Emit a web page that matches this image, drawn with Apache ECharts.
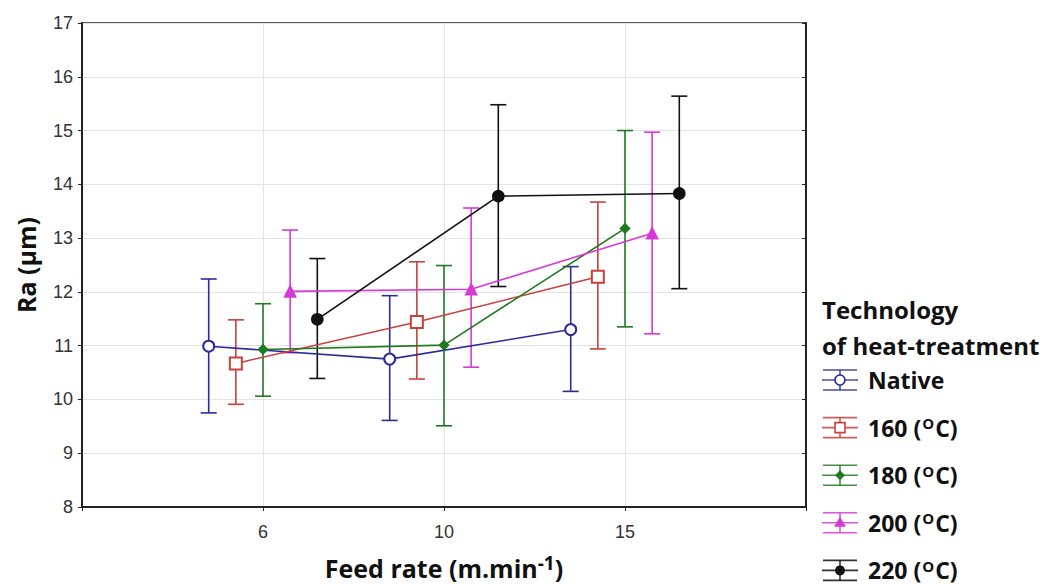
<!DOCTYPE html>
<html><head><meta charset="utf-8">
<script src="https://cdn.jsdelivr.net/npm/echarts@6/dist/echarts.min.js"></script>
<style>html,body{margin:0;padding:0;background:#fff}#c{width:1046px;height:585px}</style>
</head><body><div id="c"></div>
<script>
const categories = ['6', '10', '15'];
const yTicks = [8, 9, 10, 11, 12, 13, 14, 15, 16, 17];
const seriesNames = ['Native', '160', '180', '200', '220'];
const nativeMean = [10.99, 10.75, 11.30];
const nativeUpper = [12.24, 11.93, 12.47];
const nativeLower = [9.75, 9.61, 10.15];
const t160Mean = [10.67, 11.44, 12.28];
const t160Upper = [11.48, 12.56, 13.67];
const t160Lower = [9.91, 10.38, 10.94];
const t180Mean = [10.93, 11.01, 13.18];
const t180Upper = [11.78, 12.49, 15.00];
const t180Lower = [10.06, 9.51, 11.35];
const t200Mean = [12.01, 12.05, 13.09];
const t200Upper = [13.15, 13.56, 14.97];
const t200Lower = [10.87, 10.60, 11.22];
const t220Mean = [11.49, 13.78, 13.83];
const t220Upper = [12.62, 15.48, 15.64];
const t220Lower = [10.39, 12.10, 12.06];

const means = [nativeMean, t160Mean, t180Mean, t200Mean, t220Mean];
const uppers = [nativeUpper, t160Upper, t180Upper, t200Upper, t220Upper];
const lowers = [nativeLower, t160Lower, t180Lower, t200Lower, t220Lower];
const colors = ['#2b2b9a', '#c8413a', '#1f7a1f', '#d63ad6', '#111111'];
const symbols = ['emptyCircle', 'emptyRect', 'diamond', 'triangle', 'circle'];
const symbolSizes = [11, 12, 9, 11, 11];
const offsets = [-0.3, -0.15, 0, 0.15, 0.3];

const chart = echarts.init(document.getElementById('c'), null, {renderer: 'svg'});
const series = [];
seriesNames.forEach((name, s) => {
  const pts = categories.map((c, i) => [i + 1 + offsets[s], means[s][i]]);
  const bars = categories.map((c, i) => [i + 1 + offsets[s], lowers[s][i], uppers[s][i]]);
  series.push({
    type: 'custom', name: name + '_err', data: bars, z: 2,
    renderItem: (params, api) => {
      const x = api.value(0);
      const lo = api.coord([x, api.value(1)]);
      const hi = api.coord([x, api.value(2)]);
      const hw = 8;
      const st = {stroke: colors[s], lineWidth: 1.6};
      return {type: 'group', children: [
        {type: 'line', shape: {x1: lo[0], y1: lo[1], x2: hi[0], y2: hi[1]}, style: st},
        {type: 'line', shape: {x1: lo[0] - hw, y1: lo[1], x2: lo[0] + hw, y2: lo[1]}, style: st},
        {type: 'line', shape: {x1: hi[0] - hw, y1: hi[1], x2: hi[0] + hw, y2: hi[1]}, style: st}
      ]};
    },
    encode: {x: 0, y: [1, 2]}
  });
  series.push({
    type: 'line', name: name, data: pts, z: 3,
    symbol: symbols[s], symbolSize: symbolSizes[s],
    lineStyle: {color: colors[s], width: 1.6},
    itemStyle: {color: colors[s], borderColor: colors[s], borderWidth: 1.6},
    emphasis: {disabled: true}
  });
});

// legend drawn with graphic elements
const legendFont = '"Open Sans", "Noto Sans", sans-serif';
const graphics = [
  {type: 'text', x: 822, y: 309, style: {text: 'Technology', font: 'bold 24px ' + legendFont, fill: '#111', verticalAlign: 'middle', lineHeight: 26}},
  {type: 'text', x: 822, y: 345, style: {text: 'of heat-treatment', font: 'bold 24px ' + legendFont, fill: '#111', verticalAlign: 'middle', lineHeight: 26}}
];
const legendLabels = ['Native', '160 ({s|O}C)', '180 ({s|O}C)', '200 ({s|O}C)', '220 ({s|O}C)'];
seriesNames.forEach((name, s) => {
  const cy = 380 + 47.6 * s;
  const cx = 840;
  const st = {stroke: colors[s], lineWidth: 1.6, opacity: 0.85};
  let marker;
  if (s === 0) marker = {type: 'circle', shape: {cx: cx, cy: cy, r: 5}, style: {stroke: colors[s], fill: '#fff', lineWidth: 1.6}};
  else if (s === 1) marker = {type: 'rect', shape: {x: cx - 5, y: cy - 5, width: 10, height: 10}, style: {stroke: colors[s], fill: '#fff', lineWidth: 1.6}};
  else if (s === 2) marker = {type: 'polygon', shape: {points: [[cx, cy - 5], [cx + 5, cy], [cx, cy + 5], [cx - 5, cy]]}, style: {fill: colors[s]}};
  else if (s === 3) marker = {type: 'polygon', shape: {points: [[cx, cy - 6], [cx + 6, cy + 4], [cx - 6, cy + 4]]}, style: {fill: colors[s]}};
  else marker = {type: 'circle', shape: {cx: cx, cy: cy, r: 5}, style: {fill: colors[s]}};
  graphics.push(
    {type: 'line', shape: {x1: 823, y1: cy - 10, x2: 857, y2: cy - 10}, style: st},
    {type: 'line', shape: {x1: 823, y1: cy + 10, x2: 857, y2: cy + 10}, style: st},
    {type: 'line', shape: {x1: 822, y1: cy, x2: 858, y2: cy}, style: st},
    {type: 'line', shape: {x1: cx, y1: cy - 10, x2: cx, y2: cy + 10}, style: st},
    marker,
    {type: 'text', x: 868, y: cy, style: {
      text: legendLabels[s], font: 'bold 23px ' + legendFont, fill: '#111', verticalAlign: 'middle', lineHeight: 24,
      rich: {s: {fontSize: 15, fontWeight: 'bold', fontFamily: legendFont, verticalAlign: 'top', lineHeight: 24, padding: [0, 1, 0, 1]}}
    }}
  );
});

chart.setOption({
  animation: false,
  backgroundColor: '#fff',
  grid: {left: 82, right: 240, top: 23, bottom: 76, show: true, borderColor: '#222', borderWidth: 1.5},
  xAxis: {
    type: 'value', min: 0, max: 4, interval: 1,
    name: 'Feed rate (m.min{s|-1})', nameLocation: 'middle', nameGap: 46,
    nameTextStyle: {fontFamily: legendFont, fontWeight: 'bold', fontSize: 25, color: '#111',
      rich: {s: {fontSize: 19, fontWeight: 'bold', fontFamily: legendFont, color: '#111', verticalAlign: 'top', padding: [0, 0, 10, 0]}}},
    axisLine: {onZero: false, lineStyle: {color: '#222', width: 2}},
    axisTick: {show: true, length: 4, lineStyle: {color: '#222'}},
    axisLabel: {fontFamily: 'Liberation Sans, Arial, sans-serif', fontSize: 18, color: '#333', margin: 16,
      formatter: v => (v >= 1 && v <= 3) ? categories[v - 1] : ''},
    splitLine: {show: true, lineStyle: {color: '#e4e4e4', width: 1}}
  },
  yAxis: [{
    type: 'value', min: yTicks[0], max: yTicks[yTicks.length - 1], interval: 1,
    name: 'Ra (µm)', nameLocation: 'middle', nameGap: 44,
    nameTextStyle: {fontFamily: legendFont, fontWeight: 'bold', fontSize: 25, color: '#111'},
    axisLine: {show: true, lineStyle: {color: '#222', width: 2}},
    axisTick: {show: true, length: 4, lineStyle: {color: '#222'}},
    axisLabel: {fontFamily: 'Liberation Sans, Arial, sans-serif', fontSize: 18, color: '#333', margin: 9},
    splitLine: {show: true, lineStyle: {color: '#e4e4e4', width: 1}}
  }, {
    type: 'value', position: 'right', min: 8, max: 17, interval: 1,
    axisLine: {show: true, lineStyle: {color: '#222', width: 2}},
    axisTick: {show: true, inside: true, length: 4, lineStyle: {color: '#222'}},
    axisLabel: {show: false}, splitLine: {show: false}
  }],
  series: series,
  graphic: graphics
});
</script></body></html>
